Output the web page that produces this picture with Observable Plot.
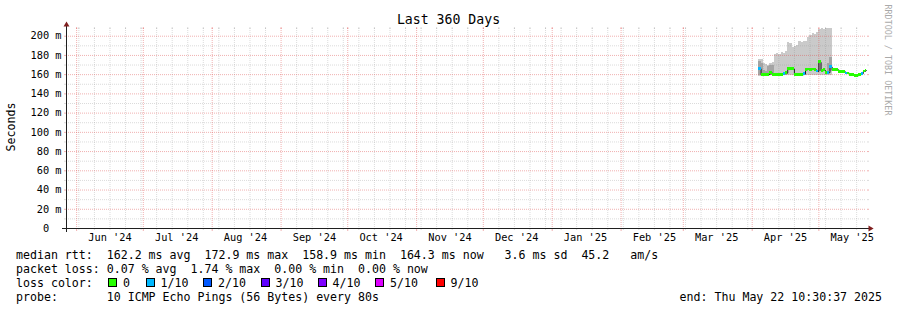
<!DOCTYPE html>
<html><head><meta charset="utf-8">
<script src="https://cdn.jsdelivr.net/npm/d3@7"></script>
<script src="https://cdn.jsdelivr.net/npm/@observablehq/plot@0.6"></script>
<style>
html,body{margin:0;padding:0;background:#fff;}
#wrap{position:relative;width:897px;height:310px;overflow:hidden;background:#fff;font-family:"DejaVu Sans Mono",monospace;color:#000;}
#wrap svg{position:absolute;left:0;top:0;}
.t{position:absolute;white-space:pre;}
.leg{font-size:11.6px;line-height:14px;}
.box{position:absolute;width:9px;height:9px;box-sizing:border-box;border:1px solid #000;}
</style></head><body><div id="wrap"></div>
<script>
const startTime = new Date("2024-05-27T10:30:37Z");
const endTime = new Date("2025-05-22T10:30:37Z");

const days = ["2025-04-04","2025-04-05","2025-04-06","2025-04-07","2025-04-08","2025-04-09","2025-04-10","2025-04-11","2025-04-12","2025-04-13",
  "2025-04-14","2025-04-15","2025-04-16","2025-04-17","2025-04-18","2025-04-19","2025-04-20","2025-04-21","2025-04-22","2025-04-23",
  "2025-04-24","2025-04-25","2025-04-26","2025-04-27","2025-04-28","2025-04-29","2025-04-30","2025-05-01","2025-05-02","2025-05-03",
  "2025-05-04","2025-05-05","2025-05-06","2025-05-07","2025-05-08","2025-05-09","2025-05-10","2025-05-11","2025-05-12","2025-05-13",
  "2025-05-14","2025-05-15","2025-05-16","2025-05-17","2025-05-18","2025-05-19","2025-05-20","2025-05-21","2025-05-22"];
// median rtt (ms)
const median = [166,160,160,160,160,162,160,159.5,159.5,160,
  160,161,161.5,165.8,165.8,165.8,159.6,159.6,159.6,159.6,
  160.5,165,165.5,165,165.5,165,163.3,172.9,164,164.5,
  161.7,162,168,165,165,165,163,163,163,161.3,
  161.3,159.6,159.6,158.9,158.9,159.6,161,163.3,164.3];
// lost pings out of 10 (index into loss colours)
const loss = [1,0,0,0,0,0,0,0,0,0,
  0,1,0,0,0,0,0,0,0,0,
  1,0,0,0,0,0,1,0,0,0,
  0,1,1,0,0,0,0,0,0,1,
  0,0,0,0,0,0,1,0,0];
// smoke: outer band (ping 1 .. ping 10), inner band (ping 2 .. ping 9), ms
const smokeMin = [158.5,158.5,158.5,158.5,158.5,159,158.5,158.5,158.5,158.5,
  158.5,159,159,159,159,159,158.5,158.5,158.5,158.5,
  159,159,159,159,159,159,159,159,159,159,
  159,159,159];
const smokeMax = [176,176,172,171,170,172,173,181,182,181,
  183,182,184,193,192,188,189,190,194,193,
  195,194,199,201,203,202,204,207,208,207,
  208,208,208];
const innerMin = [159,159,159,159,159,159,159,159,159,159,
  159,159,159,164.8,164.8,164.8,159,159,159,159,
  159,164,164,164,164,164,162,163,163,163,
  160.7,161,163];
const innerMax = [174,172,164,163,168,170,170,161,161,161.5,
  161.5,162,162.5,167,167,167,161,161,161,161,
  161.5,166.5,166.5,166.5,166.5,166.5,164.5,175,165.5,166,
  163,172,178];

const yDomain = [0, 208];
const yTicks = [0,20,40,60,80,100,120,140,160,180,200];
const yTickLabels = ["0\u00a0\u00a0","20 m","40 m","60 m","80 m","100 m","120 m","140 m","160 m","180 m","200 m"];
const yMinor = [10,30,50,70,90,110,130,150,170,190];
const monthStarts = ["2024-06-01","2024-07-01","2024-08-01","2024-09-01","2024-10-01","2024-11-01","2024-12-01",
  "2025-01-01","2025-02-01","2025-03-01","2025-04-01","2025-05-01"];
const monthLabels = ["Jun '24","Jul '24","Aug '24","Sep '24","Oct '24","Nov '24","Dec '24",
  "Jan '25","Feb '25","Mar '25","Apr '25","May '25"];
const lossLabels = ["0","1/10","2/10","3/10","4/10","5/10","9/10"];
const lossColors = ["#26ff00","#00b8ff","#0059ff","#5e00ff","#7e00ff","#dd00ff","#ff0000"];

const legendLines = [
  "median rtt:  162.2 ms avg  172.9 ms max  158.9 ms min  164.3 ms now   3.6 ms sd  45.2   am/s",
  "packet loss: 0.07 % avg  1.74 % max  0.00 % min  0.00 % now",
  "loss color:",
  "probe:       10 ICMP Echo Pings (56 Bytes) every 80s"
];
const endText = "end: Thu May 22 10:30:37 2025";

// ---- derived tables ----
const rows = days.map((d, i) => ({
  t0: new Date(d + "T00:00:00Z"),
  t1: i + 1 < days.length ? new Date(days[i + 1] + "T00:00:00Z") : endTime,
  med: median[i], loss: loss[i],
  lo: smokeMin[i], hi: smokeMax[i], ilo: innerMin[i], ihi: innerMax[i]
}));
const smokeRows = rows.filter(r => r.hi != null);
const lineRows = rows.map(r => ({t: r.t0, med: r.med})).concat([{t: endTime, med: median[median.length - 1]}]);
const monthDates = monthStarts.map(s => new Date(s + "T00:00:00Z"));
const monthSet = new Set(monthDates.map(d => +d));
const weekLines = d3.utcSunday.range(startTime, endTime).filter(d => !monthSet.has(+d));
const labelDates = monthDates.map(d => d3.utcDay.offset(d, 15));
const xLabelMap = new Map(labelDates.map((d, i) => [+d, monthLabels[i]]));
const yLabelMap = new Map(yTicks.map((v, i) => [v, yTickLabels[i]]));

const gridC = "#8f8f8f", gridO = 0.32;
const mgridC = "#de4f4f", mgridO = 0.45;
const axisC = "#1f1f1f", arrowC = "#801f1f";
const sw = 1.4;

const chart = Plot.plot({
  width: 897, height: 250,
  marginLeft: 66, marginRight: 31, marginTop: 28, marginBottom: 22,
  x: {type: "utc", domain: [startTime, endTime], label: null},
  y: {domain: yDomain, label: null},
  style: {fontFamily: "DejaVu Sans Mono", fontSize: "10.3px", background: "transparent", color: "#000", overflow: "visible"},
  marks: [
    Plot.rect(smokeRows, {x1: "t0", x2: "t1", y1: "lo", y2: "hi", fill: "#cacaca", shapeRendering: "crispEdges"}),
    Plot.rect(smokeRows, {x1: "t0", x2: "t1", y1: "ilo", y2: "ihi", fill: "#a4a4a4", shapeRendering: "crispEdges"}),
    Plot.ruleY(yMinor, {stroke: gridC, strokeOpacity: gridO, strokeDasharray: "1,1"}),
    Plot.ruleX(weekLines, {stroke: gridC, strokeOpacity: gridO, strokeDasharray: "1,1"}),
    Plot.ruleY(yTicks.filter(v => v > 0), {stroke: mgridC, strokeOpacity: mgridO, strokeDasharray: "1,1"}),
    Plot.ruleX(monthDates, {stroke: mgridC, strokeOpacity: mgridO, strokeDasharray: "1,1"}),
    Plot.line(lineRows, {x: "t", y: "med", curve: "step-after", stroke: "#202020", strokeWidth: 1}),
    Plot.rect(rows, {x1: "t0", x2: "t1", y1: d => d.med - sw, y2: d => d.med + sw, fill: d => lossColors[d.loss], shapeRendering: "crispEdges"}),
    // small ticks
    Plot.axisX(weekLines, {anchor: "bottom", tickSize: 2, fill: "none", stroke: gridC, strokeOpacity: gridO, label: null}),
    Plot.axisX(weekLines, {anchor: "top", tickSize: 2, fill: "none", stroke: gridC, strokeOpacity: gridO, label: null}),
    Plot.axisX(monthDates, {anchor: "bottom", tickSize: 3, fill: "none", stroke: mgridC, strokeOpacity: mgridO, label: null}),
    Plot.axisX(monthDates, {anchor: "top", tickSize: 2, fill: "none", stroke: mgridC, strokeOpacity: mgridO, label: null}),
    Plot.axisY(yMinor, {anchor: "left", tickSize: 2, fill: "none", stroke: gridC, strokeOpacity: gridO, label: null}),
    Plot.axisY(yMinor, {anchor: "right", tickSize: 2, fill: "none", stroke: gridC, strokeOpacity: gridO, label: null}),
    Plot.axisY(yTicks.filter(v => v > 0), {anchor: "left", tickSize: 2, fill: "none", stroke: mgridC, strokeOpacity: mgridO, label: null}),
    Plot.axisY(yTicks.filter(v => v > 0), {anchor: "right", tickSize: 2, fill: "none", stroke: mgridC, strokeOpacity: mgridO, label: null}),
    // axis labels
    Plot.axisX(labelDates, {anchor: "bottom", tickSize: 0, tickPadding: 5, tickFormat: d => xLabelMap.get(+d), label: null}),
    Plot.axisY(yTicks, {anchor: "left", tickSize: 0, tickPadding: 5, tickFormat: d => yLabelMap.get(d), label: null}),
    // axis lines + arrows
    Plot.ruleY([0], {stroke: axisC, insetLeft: -4, insetRight: -4}),
    Plot.ruleX([startTime], {stroke: axisC, insetTop: -4, insetBottom: -4}),
    Plot.dot([0], {x: () => startTime, y: () => yDomain[1], symbol: "triangle", r: 2.2, dy: -3.7, fill: arrowC}),
    Plot.dot([0], {x: () => endTime, y: () => 0, symbol: "triangle", r: 2.2, dx: 3.7, rotate: 90, fill: arrowC})
  ]
});

const wrap = document.getElementById("wrap");
wrap.appendChild(chart);

function addText(txt, css, cls) {
  const el = document.createElement("div");
  el.className = "t " + (cls || "");
  el.textContent = txt;
  Object.assign(el.style, css);
  wrap.appendChild(el);
  return el;
}
// title
addText("Last 360 Days", {left: "0px", width: "897px", textAlign: "center", top: "12.4px", fontSize: "13.2px", lineHeight: "16px"});
// y label
addText("Seconds", {left: "-29px", top: "120px", width: "80px", textAlign: "center", fontSize: "11.6px", lineHeight: "14px", transform: "rotate(-90deg)"});
// watermark
addText("RRDTOOL / TOBI OETIKER", {left: "828px", top: "55px", width: "120px", textAlign: "center", fontSize: "8.4px", lineHeight: "10px", color: "#aaaaaa", transform: "rotate(90deg)"});
// legend
const legTops = [247.7, 261.7, 275.7, 289.7];
legendLines.forEach((s, i) => addText(s, {left: "16px", top: legTops[i] + "px"}, "leg"));
addText(endText, {right: "15px", top: legTops[3] + "px"}, "leg");
const boxX = [108, 145.5, 203, 260.5, 317.5, 375, 435.5];
lossLabels.forEach((lab, i) => {
  const b = document.createElement("div");
  b.className = "box";
  b.style.left = boxX[i] + "px";
  b.style.top = "278px";
  b.style.background = lossColors[i];
  wrap.appendChild(b);
  addText(lab, {left: (boxX[i] + 15) + "px", top: legTops[2] + "px"}, "leg");
});
</script></body></html>
